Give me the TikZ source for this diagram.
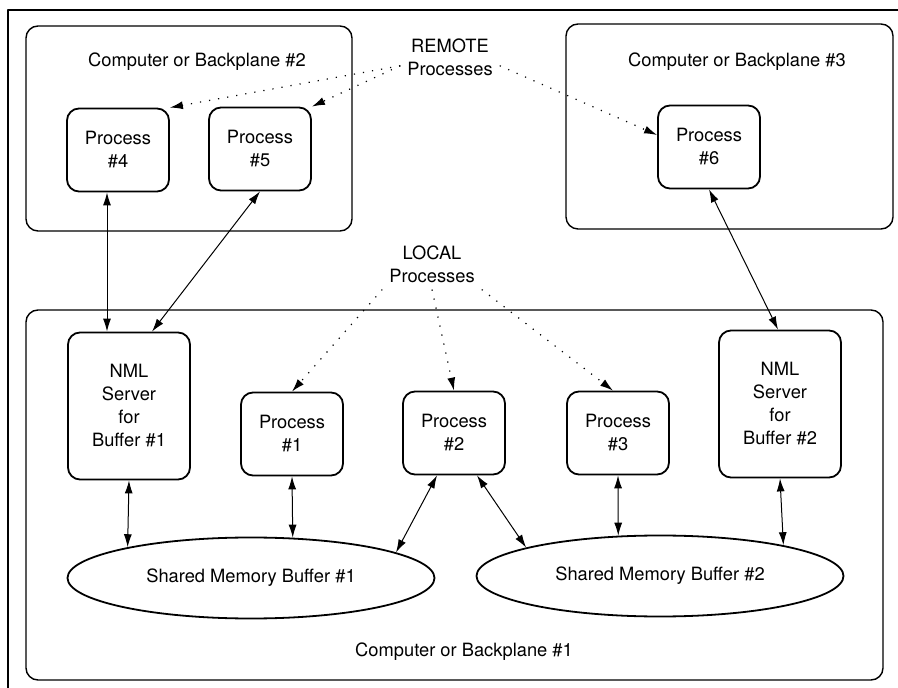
\documentclass[tikz,border=0pt]{standalone}
\usepackage{fontspec}
\setmainfont{TeX Gyre Heros}
\usetikzlibrary{shapes.geometric,arrows.meta}
\begin{document}
\begin{tikzpicture}[x=0.5pt,y=-0.5pt,font=\fontsize{9.15}{11.5}\selectfont,line join=round,
	>={Latex[length=6.5pt,width=4pt]},
	proc/.style={draw,line width=0.9pt,rounded corners=6pt,align=center,minimum width=51pt,minimum height=41.5pt,inner sep=0pt},
	srv/.style={proc,minimum width=61pt,minimum height=73.5pt},
	buf/.style={draw,ellipse,line width=0.9pt,minimum width=183.5pt,minimum height=40.5pt,inner sep=0pt},
	hop/.style={<->,line width=0.5pt},
	hint/.style={->,loosely dotted,line width=0.6pt},
	frame/.style={line width=0.7pt,rounded corners=6pt}]
	\useasboundingbox (0,0) rectangle (898,688);
	\draw[line width=0.6pt] (8,688) |- (898,10);
	% three machines
	\draw[frame] (26,26) rectangle (352,231);
	\draw[frame] (566,24) rectangle (893,229);
	\draw[frame] (26,310) rectangle (883,680);
	\path 
	(197,62) node (t2) {Computer or Backplane \#2}
	(737,62) node (t3) {Computer or Backplane \#3}
	(464,652) node (t1) {Computer or Backplane \#1}
	(450,57) node[align=center] (rem) {REMOTE\\Processes}
	(432,264) node[align=center] (loc) {LOCAL\\Processes}
	(118,150) node[proc] (p4) {Process\\\#4}
	(260,149) node[proc] (p5) {Process\\\#5}
	(709,147) node[proc] (p6) {Process\\\#6}
	(129,406) node[srv] (nml1) {NML\\Server\\for\\Buffer \#1}
	(292,434) node[proc] (p1) {Process\\\#1}
	(454,433) node[proc] (p2) {Process\\\#2}
	(618,433) node[proc] (p3) {Process\\\#3}
	(780,404) node[srv] (nml2) {NML\\Server\\for\\Buffer \#2}
	(251,578) node[buf] (buf1) {Shared Memory Buffer \#1}
	(660,576) node[buf] (buf2) {Shared Memory Buffer \#2};
	% links
	\draw[hop] ([xshift=-5.5pt]p4.south) -- ([xshift=-11pt]nml1.north);
	\draw[hop] (p5.south) -- ([xshift=11.5pt]nml1.north);
	\draw[hop] (p6.south) -- ([xshift=-1pt]nml2.north);
	\draw[hop] (nml1.south) -- (buf1.166);
	\draw[hop] (p1.south) -- (buf1.44);
	\draw[hop] ([xshift=-8.5pt]p2.south) -- (buf1.10);
	\draw[hop] ([xshift=11.5pt]p2.south) -- (buf2.168);
	\draw[hop] (p3.south) -- (buf2.136);
	\draw[hop] (nml2.south) -- (buf2.14.5);
	% labels
	\draw[hint] (rem.190) -- (p4.north east);
	\draw[hint] (rem.190) -- (p5.north east);
	\draw[hint] (rem.-10) -- ([yshift=6pt]p6.west);
	\draw[hint] (loc.south west) -- (p1.north);
	\draw[hint] (loc.south) -- (p2.north);
	\draw[hint] (loc.south east) -- ([xshift=-2.5pt]p3.north);
\end{tikzpicture}
\end{document}
